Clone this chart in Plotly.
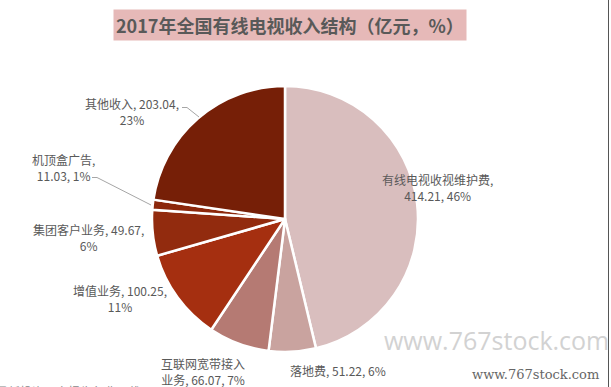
import plotly.graph_objects as go

# ---- data ----
categories = ["有线电视收视维护费", "落地费", "互联网宽带接入业务", "增值业务",
              "集团客户业务", "机顶盒广告", "其他收入"]
values = [414.21, 51.22, 66.07, 100.25, 49.67, 11.03, 203.04]
colors = ["#D9BEBE", "#C9A39F", "#B57A73", "#A52F10", "#922B0E", "#8C280C", "#761F07"]
title_text = "2017年全国有线电视收入结构（亿元，%）"

W, H = 611, 387
def px(x):
    return x / W
def py(y):
    return 1 - y / H

fig = go.Figure()
fig.add_trace(go.Pie(
    labels=categories, values=values, sort=False, direction="clockwise",
    rotation=0, textinfo="none", hoverinfo="label+value+percent",
    marker=dict(colors=colors, line=dict(color="white", width=2.5)),
    domain=dict(x=[px(152), px(418)], y=[py(352), py(86)]),
    showlegend=False,
))

# label layout (text templates and positions are layout, not data)
label_fmt = [
    "{n},<br>{v}, {p}%",
    "{n}, {v}, {p}%",
    "互联网宽带接入<br>业务, {v}, {p}%",
    "{n}, {v},<br>{p}%",
    "{n}, {v},<br>{p}%",
    "{n},<br>{v}, {p}%",
    "{n}, {v},<br>{p}%",
]
label_pos = [(438, 187), (338, 370), (203, 371), (120, 298), (88, 237), (63, 167), (132, 111)]

total = sum(values)
annotations = []
for name, v, fmt, (x, y) in zip(categories, values, label_fmt, label_pos):
    pct = round(v / total * 100)
    annotations.append(dict(
        x=px(x), y=py(y), xref="paper", yref="paper", showarrow=False,
        text=fmt.format(n=name, v=f"{v:.2f}", p=pct), align="center",
        font=dict(family="Noto Sans CJK SC", size=12, color="#595959"),
        xanchor="center", yanchor="middle",
    ))

# title box
annotations.append(dict(
    x=px(290), y=py(25), xref="paper", yref="paper", showarrow=False,
    text="<b>" + title_text + "</b>", bgcolor="#E6B9B8", borderpad=2,
    font=dict(family="Noto Sans CJK SC", size=18, color="#595959"),
    xanchor="center", yanchor="middle",
))

# watermarks
annotations.append(dict(
    x=px(496), y=py(340), xref="paper", yref="paper", showarrow=False,
    text="www.767stock.com",
    font=dict(family="Open Sans", size=25, color="#D2D2D2"),
    xanchor="center", yanchor="middle",
))
annotations.append(dict(
    x=px(535), y=py(374), xref="paper", yref="paper", showarrow=False,
    text="www.767stock.com",
    font=dict(family="DejaVu Serif", size=13, color="#666666"),
    xanchor="center", yanchor="middle",
))
annotations.append(dict(
    x=px(-6), y=py(391), xref="paper", yref="paper", showarrow=False,
    text="最新投资研究报告免费下载",
    font=dict(family="Noto Sans CJK SC", size=12, color="#888888"),
    xanchor="left", yanchor="middle",
))

shapes = [
    dict(type="path", xref="paper", yref="paper", line=dict(color="#A6A6A6", width=1),
         path=f"M {px(182)} {py(107.5)} L {px(187)} {py(107.5)} L {px(199)} {py(117)}"),
    dict(type="path", xref="paper", yref="paper", line=dict(color="#A6A6A6", width=1),
         path=f"M {px(92)} {py(177.5)} L {px(97)} {py(177.5)} L {px(151)} {py(205)}"),
    dict(type="line", xref="paper", yref="paper", x0=px(608.5), x1=px(608.5), y0=0, y1=1,
         line=dict(color="#555555", width=1)),
]

fig.update_layout(
    width=W, height=H, margin=dict(l=0, r=0, t=0, b=0),
    paper_bgcolor="white", plot_bgcolor="white",
    annotations=annotations, shapes=shapes,
)
fig.write_html("out.html", config={"displayModeBar": False},
               post_script="document.body.style.margin='0';document.body.style.overflow='hidden';")
